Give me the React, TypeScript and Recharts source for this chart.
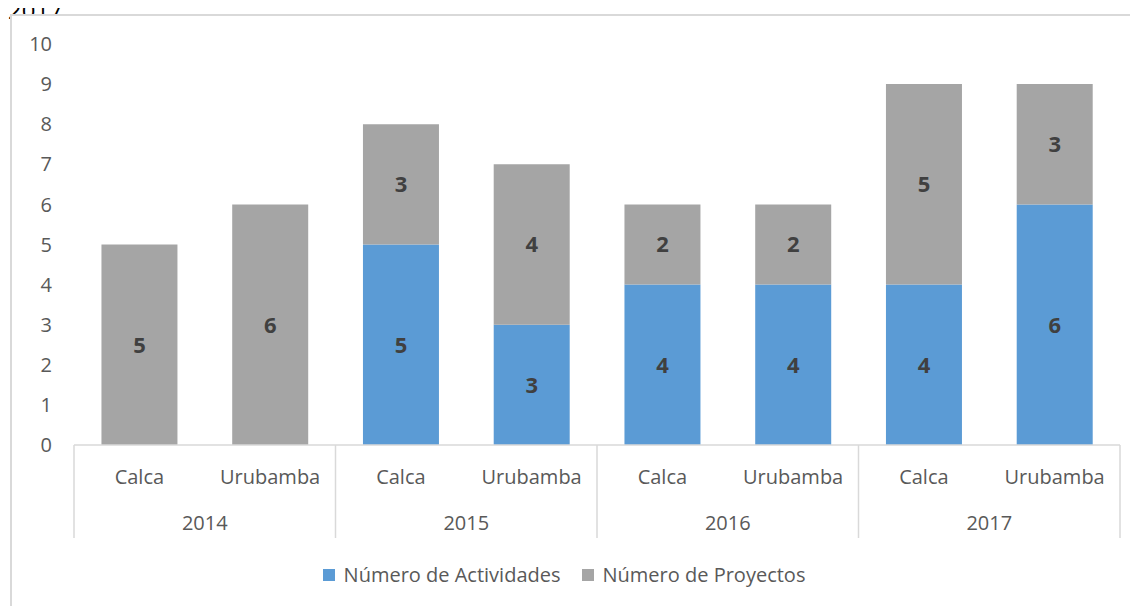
import React from 'react';
import { BarChart, Bar, XAxis, YAxis, Legend, LabelList } from 'recharts';

// Valores
const years = ['2014', '2014', '2015', '2015', '2016', '2016', '2017', '2017'];
const provinces = ['Calca', 'Urubamba', 'Calca', 'Urubamba', 'Calca', 'Urubamba', 'Calca', 'Urubamba'];
const actividades = [0, 0, 5, 3, 4, 4, 4, 6];
const proyectos = [5, 6, 3, 4, 2, 2, 5, 3];
const yTicks = [0, 1, 2, 3, 4, 5, 6, 7, 8, 9, 10];

const data = provinces.map((p, i) => ({
  key: `${years[i]}-${p}`,
  province: p,
  year: years[i],
  actividades: actividades[i],
  proyectos: proyectos[i],
}));

const FONT = '"Open Sans", "Noto Sans", sans-serif';
const AXIS_COLOR = '#D9D9D9';
const TEXT_COLOR = '#595959';
const CAT_AXIS_H = 50;
const YEAR_AXIS_H = 43;
const YEAR_MARGIN = 27;
const FS = 20;

const ProvinceTick = (props: any) => {
  const { x, y, index } = props;
  return (
    <text x={x} y={y} textAnchor="middle" dominantBaseline="central" fill={TEXT_COLOR} fontSize={FS} fontFamily={FONT}>
      {provinces[index]}
    </text>
  );
};

const YearTick = (props: any) => {
  const { x, y, payload, width, visibleTicksCount, index } = props;
  const half = width / visibleTicksCount / 2;
  const top = y - YEAR_MARGIN - CAT_AXIS_H;
  const bottom = y - YEAR_MARGIN + YEAR_AXIS_H;
  return (
    <g>
      <line x1={x - half} x2={x - half} y1={top} y2={bottom} stroke={AXIS_COLOR} strokeWidth={1.5} />
      {index === visibleTicksCount - 1 && (
        <line x1={x + half} x2={x + half} y1={top} y2={bottom} stroke={AXIS_COLOR} strokeWidth={1.5} />
      )}
      <text x={x} y={y} textAnchor="middle" dominantBaseline="central" fill={TEXT_COLOR} fontSize={FS} fontFamily={FONT}>
        {payload.value}
      </text>
    </g>
  );
};

const legendItems = [
  { name: 'Número de Actividades', color: '#5B9BD5' },
  { name: 'Número de Proyectos', color: '#A5A5A5' },
];

const LegendContent = () => (
  <div style={{ display: 'flex', justifyContent: 'center', gap: 21, paddingTop: 24, fontFamily: FONT, fontSize: FS, color: TEXT_COLOR, lineHeight: '26px' }}>
    {legendItems.map((it) => (
      <div key={it.name} style={{ display: 'flex', alignItems: 'center' }}>
        <span style={{ display: 'inline-block', width: 12, height: 12, background: it.color, marginRight: 9 }} />
        {it.name}
      </div>
    ))}
  </div>
);

const hideZero = (v: any) => (v === 0 ? '' : v);

const App: React.FC = () => {
  return (
    <div style={{ position: 'relative', width: 1130, height: 598, fontFamily: FONT }}>
      <div style={{ position: 'absolute', left: 0, top: -10, fontSize: 24, color: '#000', fontFamily: FONT, lineHeight: '24px' }}>
        2017
      </div>
      <div style={{ position: 'absolute', left: 2, top: 6, width: 1140, height: 620, borderLeft: `2px solid ${AXIS_COLOR}`, borderTop: `2px solid ${AXIS_COLOR}`, background: '#fff' }} />
      <div style={{ position: 'absolute', left: 0, top: 0 }}>
        <BarChart
          width={1130}
          height={598}
          data={data}
          margin={{ top: 36, right: 18, left: 0, bottom: 28 }}
          barCategoryGap="21%"
        >
          <XAxis
            xAxisId="cat"
            dataKey="key"
            height={CAT_AXIS_H}
            tickLine={false}
            tickSize={0}
            tickMargin={31}
            axisLine={{ stroke: AXIS_COLOR, strokeWidth: 1.5 }}
            tick={<ProvinceTick />}
            interval={0}
          />
          <XAxis
            xAxisId="year"
            dataKey="year"
            allowDuplicatedCategory={false}
            height={YEAR_AXIS_H}
            tickLine={false}
            tickSize={0}
            tickMargin={YEAR_MARGIN}
            axisLine={false}
            tick={<YearTick />}
            interval={0}
          />
          <YAxis
            width={66}
            domain={[0, 10]}
            ticks={yTicks}
            axisLine={false}
            tickLine={false}
            tickSize={0}
            tickMargin={22}
            tick={{ fill: TEXT_COLOR, fontSize: FS, fontFamily: FONT }}
          />
          <Legend verticalAlign="bottom" height={40} content={<LegendContent />} />
          <Bar xAxisId="cat" dataKey="actividades" name="Número de Actividades" stackId="a" fill="#5B9BD5" isAnimationActive={false}>
            <LabelList dataKey="actividades" position="center" formatter={hideZero} fill="#404040" fontSize={22} fontWeight="bold" fontFamily={FONT} />
          </Bar>
          <Bar xAxisId="cat" dataKey="proyectos" name="Número de Proyectos" stackId="a" fill="#A5A5A5" isAnimationActive={false}>
            <LabelList dataKey="proyectos" position="center" formatter={hideZero} fill="#404040" fontSize={22} fontWeight="bold" fontFamily={FONT} />
          </Bar>
        </BarChart>
      </div>
    </div>
  );
};

export default App;
